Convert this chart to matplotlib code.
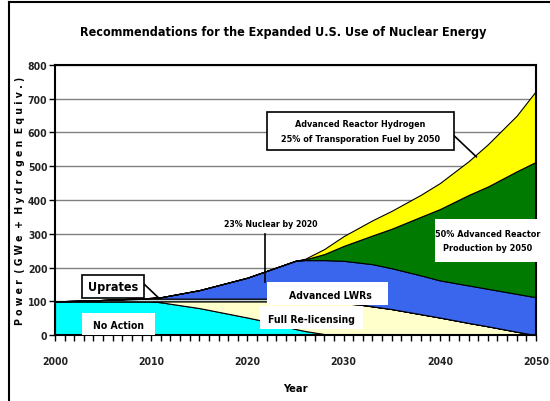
import matplotlib
matplotlib.use("Agg")
import matplotlib.pyplot as plt
from matplotlib.lines import Line2D
from matplotlib.patches import Rectangle

plt.rcParams['font.family'] = ['DejaVu Sans']
plt.rcParams['font.stretch'] = 'condensed'

# values (GWe + hydrogen equiv.)
years = [2000, 2003, 2005, 2010, 2011, 2015, 2020, 2022, 2025, 2026,
         2028, 2030, 2033, 2035, 2038, 2040, 2043, 2045, 2048, 2050]
no_action = [100, 100, 100, 100, 97, 80, 52, 40, 18, 12, 3, 0, 0, 0, 0, 0, 0, 0, 0, 0]
relicensing = [0, 0, 0, 0, 3, 20, 48, 60, 82, 88, 97, 95, 85, 77, 62, 52, 36, 26, 10, 0]
uprates = [0, 2, 4, 8, 8, 8, 8, 8, 8, 8, 8, 5, 0, 0, 0, 0, 0, 0, 0, 0]
adv_lwr = [0, 0, 0, 2, 4, 25, 62, 82, 112, 114, 114, 120, 125, 121, 115, 110, 111, 111, 112, 112]
adv_reactor = [0, 0, 0, 0, 0, 0, 0, 0, 0, 2, 18, 44, 85, 117, 173, 211, 268, 303, 363, 401]
hydrogen = [0, 0, 0, 0, 0, 0, 0, 0, 0, 2, 15, 29, 45, 53, 65, 77, 100, 125, 165, 210]

colors = ['#00FFFF', '#FFFFCC', '#C8D4D4', '#3A66EE', '#007A00', '#FFFF00']

fig = plt.figure(figsize=(5.5, 4.02), dpi=100)
ax = fig.add_axes([0.1, 0.164, 0.8745, 0.672])

ax.set_axisbelow(True)
ax.grid(axis='y', color='#808080', linewidth=1)
ax.stackplot(years, no_action, relicensing, uprates, adv_lwr, adv_reactor, hydrogen,
             colors=colors, edgecolor='black', linewidth=0.8, zorder=2)

ax.set_xlim(2000, 2050)
ax.set_ylim(0, 800)
ax.set_xticks(range(2000, 2051, 10))
ax.set_xticks(range(2000, 2051, 1), minor=True)
ax.set_yticks(range(0, 801, 100))
ax.tick_params(axis='both', direction='out', length=4, labelsize=7.5, width=1)
ax.tick_params(axis='x', which='minor', direction='out', length=4, width=1)
for lab in ax.get_xticklabels() + ax.get_yticklabels():
    lab.set_fontweight('bold')
    lab.set_color('#222222')
ax.tick_params(axis='x', pad=11)
ax.tick_params(axis='y', pad=1.5)
for s in ax.spines.values():
    s.set_linewidth(1.5)

ax.set_xlabel('Year', fontsize=8, fontweight='bold', labelpad=12)
ax.set_ylabel('P o w e r  ( G W e  +  H y d r o g e n  E q u i v . )', fontsize=7.5,
              fontweight='bold', labelpad=2)
fig.text(0.515, 0.918, 'Recommendations for the Expanded U.S. Use of Nuclear Energy',
         ha='center', va='center', fontsize=9, fontweight='bold')

# label boxes
ax.add_patch(Rectangle((2002.8, 110), 6.5, 68, fc='white', ec='black', lw=1.2, zorder=5))
ax.text(2006.05, 144, 'Uprates', ha='center', va='center', fontsize=9, fontweight='bold', zorder=6)
ax.plot([2009.3, 2010.7], [150, 112], color='black', lw=1.2, zorder=4)

ax.add_patch(Rectangle((2002.8, 1), 7.6, 64, fc='white', ec='none', zorder=5))
ax.text(2006.6, 31, 'No Action', ha='center', va='center', fontsize=7.5, fontweight='bold', zorder=6)

ax.add_patch(Rectangle((2021.3, 18), 10.7, 68, fc='white', ec='none', zorder=5))
ax.text(2026.7, 48, 'Full Re-licensing', ha='center', va='center', fontsize=7.5, fontweight='bold', zorder=6)

ax.add_patch(Rectangle((2022.0, 89), 12.6, 68, fc='white', ec='none', zorder=5))
ax.text(2028.6, 120, 'Advanced LWRs', ha='center', va='center', fontsize=7.5, fontweight='bold', zorder=6)

ax.add_patch(Rectangle((2039.5, 216), 10.9, 128, fc='white', ec='none', zorder=5, clip_on=False))
ax.text(2045.0, 280, '50% Advanced Reactor\nProduction by 2050', ha='center', va='center', fontsize=6.5,
        fontweight='bold', linespacing=1.8, zorder=6)

ax.add_patch(Rectangle((2022.0, 548), 19.5, 113, fc='white', ec='black', lw=1.2, zorder=5))
ax.text(2031.75, 604, 'Advanced Reactor Hydrogen\n25% of Transporation Fuel by 2050', ha='center',
        va='center', fontsize=6.5, fontweight='bold', linespacing=1.8, zorder=6)
ax.plot([2041.5, 2043.8], [590, 528], color='black', lw=1.2, zorder=4)

ax.text(2022.4, 329, '23% Nuclear by 2020', ha='center', va='center', fontsize=6.3, fontweight='bold', zorder=6)
ax.plot([2021.8, 2021.8], [299, 157], color='black', lw=1.2, zorder=4)

# frame around the whole picture (top and left only, as in the source)
fig.add_artist(Line2D([0.016, 0.016], [0.0, 0.993], color='black', lw=1.5))
fig.add_artist(Line2D([0.016, 1.0], [0.993, 0.993], color='black', lw=1.5))

fig.savefig('out.png', dpi=100)
